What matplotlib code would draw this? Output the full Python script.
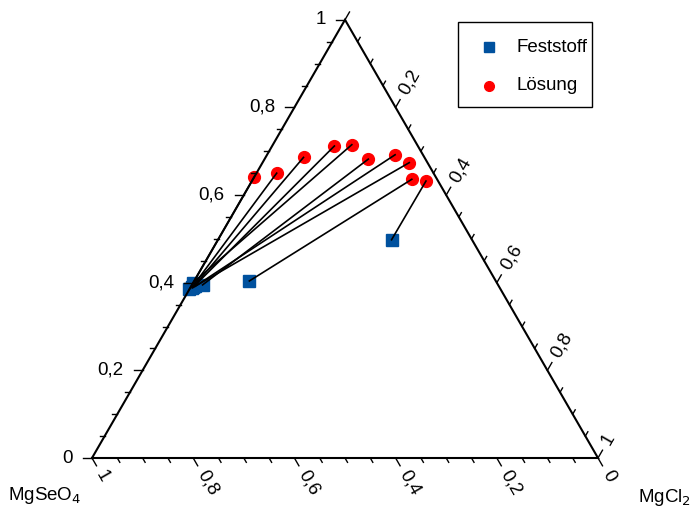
import numpy as np
import matplotlib
matplotlib.use("Agg")
import matplotlib.pyplot as plt
from matplotlib.patches import Rectangle

plt.rcParams["font.family"] = ["Liberation Sans", "DejaVu Sans"]

# ternary compositions (mass fractions), MgSeO4 = 1 - MgCl2 - H2O
sol_mgcl2 = [0.000, 0.040, 0.075, 0.123, 0.156, 0.205, 0.253, 0.290, 0.314, 0.344]
sol_h2o = [0.641, 0.650, 0.686, 0.712, 0.715, 0.682, 0.692, 0.674, 0.636, 0.632]

solid_mgcl2 = [0.000, 0.003, 0.005, 0.006, 0.000, 0.021, 0.008, 0.004, 0.109, 0.343]
solid_h2o = [0.385, 0.390, 0.390, 0.392, 0.400, 0.395, 0.392, 0.388, 0.404, 0.498]

tick_labels = ["0", "0,2", "0,4", "0,6", "0,8", "1"]
legend_labels = ["Feststoff", "Lösung"]

SQ3 = np.sqrt(3) / 2
PX = 1 / 506.0  # one pixel in data units
FS = 13.5
BLUE = "#00519e"
RED = "#ff0000"


def to_xy(c, w):
    c = np.asarray(c)
    w = np.asarray(w)
    return c + w / 2, w * SQ3


def pix(px, py):
    # pixel position in the image -> data coords
    return (px - 92) * PX, (458 - py) * PX


fig = plt.figure(figsize=(6.9, 5.11), dpi=100)
ax = fig.add_axes([0, 0, 1, 1])
ax.set_xlim(-92 * PX, 598 * PX)
ax.set_ylim(-53 * PX, 458 * PX)
ax.axis("off")

# triangle
ax.plot([0, 1, 0.5, 0], [0, 0, SQ3, 0], color="black", lw=1.5, zorder=4,
        solid_joinstyle="miter")

# ticks and labels
for i in range(21):
    v = i / 20
    major = i % 4 == 0
    L = (9 if major else 5) * PX
    # left axis (H2O)
    x0, y0 = v / 2, v * SQ3
    ax.plot([x0, x0 - L], [y0, y0], color="black", lw=1, zorder=4)
    # bottom axis (MgSeO4)
    xb = 1 - v
    ax.plot([xb, xb + 0.5 * L], [0, -SQ3 * L], color="black", lw=1, zorder=4)
    # right axis (MgCl2)
    xr, yr = 0.5 + 0.5 * v, SQ3 * (1 - v)
    ax.plot([xr, xr + 0.5 * L], [yr, yr + SQ3 * L], color="black", lw=1, zorder=4)
    if major:
        lab = tick_labels[i // 4]
        ax.text(x0 - 19 * PX, y0, lab, ha="right", va="center", fontsize=FS)
        d = L + 7 * PX
        ax.text(xb + 0.5 * d, -SQ3 * d, lab, rotation=-60, rotation_mode="anchor",
                ha="left", va="center", fontsize=FS)
        if i > 0:
            ax.text(xr + 0.5 * d, yr + SQ3 * d, lab, rotation=60, rotation_mode="anchor",
                    ha="left", va="center", fontsize=FS)

ax.text(-47 * PX, -37 * PX, "MgSeO$_4$", ha="center", va="center", fontsize=FS)
ax.text(573 * PX, -39 * PX, "MgCl$_2$", ha="center", va="center", fontsize=FS)

sx, sy = to_xy(sol_mgcl2, sol_h2o)
fx, fy = to_xy(solid_mgcl2, solid_h2o)

for i in range(len(sx)):
    ax.plot([sx[i], fx[i]], [sy[i], fy[i]], color="black", lw=1.2, zorder=3)

ax.plot(fx, fy, "s", color=BLUE, ms=8.5, ls="none", zorder=2)
ax.plot(sx, sy, "o", color=RED, ms=8.5, ls="none", zorder=2)

# legend box
bx, by = pix(458, 107)
ax.add_patch(Rectangle((bx, by), 134 * PX, 85 * PX, facecolor="white",
                       edgecolor="black", lw=1.0, zorder=5))
for (marker, color, ms), label, py in zip([("s", BLUE, 7), ("o", RED, 7)],
                                          legend_labels, [47, 86]):
    mx, my = pix(489, py)
    ax.plot([mx], [my], marker, color=color, ms=ms, zorder=6)
    tx, ty = pix(517, py)
    ax.text(tx, ty, label, ha="left", va="center", fontsize=FS, zorder=6)

fig.savefig("out.png", dpi=100)
